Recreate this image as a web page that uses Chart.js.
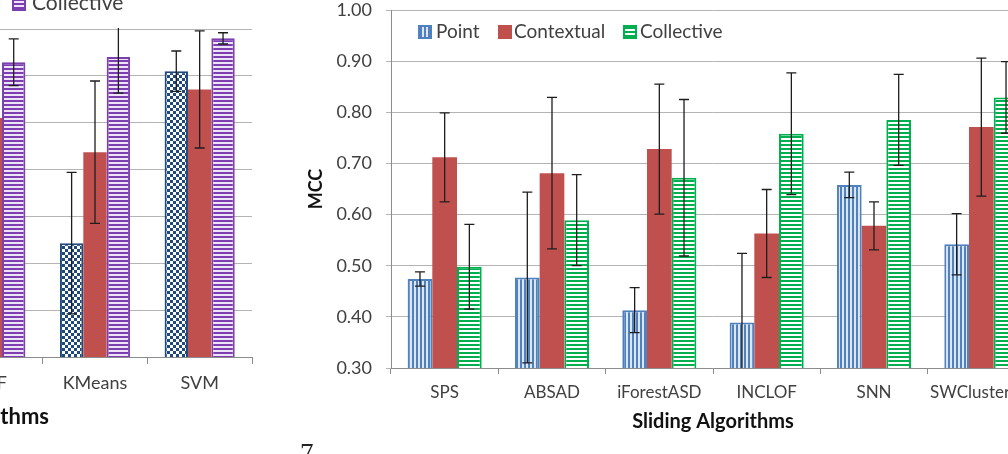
<!DOCTYPE html>
<html>
<head>
<meta charset="utf-8">
<script src="https://cdn.jsdelivr.net/npm/chart.js@4.4.0/dist/chart.umd.min.js"></script>
<style>
html, body { margin: 0; padding: 0; background: #fff; }
body { width: 1008px; height: 454px; overflow: hidden; position: relative; font-family: Lato, sans-serif; }
#batchChart { position: absolute; left: -70px; top: 0; }
#slidingChart { position: absolute; left: 300px; top: 0; }
.item { position: absolute; height: 22px; line-height: 22px; font-size: 19px; color: #404040; white-space: nowrap; }
.sw { position: absolute; width: 10px; height: 10px; top: 5px; border: 2px solid; }
.title { position: absolute; font-size: 22px; font-weight: bold; color: #111; white-space: nowrap; }
.page { position: absolute; left: 300px; top: 438px; font-family: "Liberation Serif", serif; font-size: 27px; color: #222; }
</style>
</head>
<body>
<canvas id="batchChart" width="330" height="454"></canvas>
<canvas id="slidingChart" width="740" height="454"></canvas>

<!-- legend of the cut-off left chart -->
<div class="item" style="left:32px; top:-9px; font-size:21px;">Collective</div>
<div class="sw" style="left:12px; top:-3px; border-color:#7b3fb0; background:repeating-linear-gradient(#7b3fb0 0 2px, #efe4f7 2px 4px);"></div>
<div class="title" style="right:959px; top:402px;">Batch Algorithms</div>

<!-- legend of the right chart, it sits inside the plot -->
<div class="sw" style="left:418px; top:25px; border-color:#4f81bd; background:repeating-linear-gradient(90deg, #4f81bd 0 2px, #dce6f2 2px 4px);"></div>
<div class="item" style="left:436px; top:20px;">Point</div>
<div class="sw" style="left:498px; top:25px; border-color:#c0504d; background:#c0504d;"></div>
<div class="item" style="left:514px; top:20px;">Contextual</div>
<div class="sw" style="left:623px; top:25px; border-color:#00b050; background:repeating-linear-gradient(#00b050 0 2px, #fff 2px 4px);"></div>
<div class="item" style="left:640px; top:20px;">Collective</div>

<div class="page">7</div>

<script>
// sliding algorithms (right chart)
const slidingAlgorithms = ['SPS', 'ABSAD', 'iForestASD', 'INCLOF', 'SNN', 'SWClustering'];
const slidingPoint = [0.474, 0.477, 0.413, 0.389, 0.658, 0.542];
const slidingPointErr = [0.014, 0.167, 0.044, 0.135, 0.025, 0.060];
const slidingContextual = [0.712, 0.681, 0.728, 0.563, 0.578, 0.771];
const slidingContextualErr = [0.087, 0.148, 0.127, 0.086, 0.047, 0.135];
const slidingCollective = [0.498, 0.589, 0.672, 0.758, 0.785, 0.829];
const slidingCollectiveErr = [0.083, 0.089, 0.153, 0.119, 0.089, 0.070];

// batch algorithms (left chart, mostly cut off)
const batchAlgorithms = ['LOF', 'KMeans', 'SVM'];
const batchPoint = [null, 0.543, 0.910];
const batchPointErr = [null, 0.151, 0.043];
const batchContextual = [0.810, 0.737, 0.871];
const batchContextualErr = [null, 0.152, 0.125];
const batchCollective = [0.929, 0.940, 0.980];
const batchCollectiveErr = [0.050, 0.077, 0.012];

const mccMin = 0.3;
const mccMax = 1.0;
const mccStep = 0.1;

function makePattern(w, h, draw) {
  const c = document.createElement('canvas');
  c.width = w; c.height = h;
  const g = c.getContext('2d');
  draw(g);
  return g.createPattern(c, 'repeat');
}

const blueStripes = makePattern(4, 4, g => {
  g.fillStyle = '#dce6f2'; g.fillRect(0, 0, 4, 4);
  g.fillStyle = '#4f81bd'; g.fillRect(0, 0, 2, 4);
});
const greenStripes = makePattern(4, 4, g => {
  g.fillStyle = '#ffffff'; g.fillRect(0, 0, 4, 4);
  g.fillStyle = '#00b050'; g.fillRect(0, 0, 4, 2);
});
const purpleStripes = makePattern(4, 4, g => {
  g.fillStyle = '#efe4f7'; g.fillRect(0, 0, 4, 4);
  g.fillStyle = '#7b3fb0'; g.fillRect(0, 0, 4, 2);
});
const navyChecks = makePattern(6, 6, g => {
  g.fillStyle = '#ffffff'; g.fillRect(0, 0, 6, 6);
  g.fillStyle = '#1f497d'; g.fillRect(0, 0, 3, 3); g.fillRect(3, 3, 3, 3);
});

// error bars drawn from dataset.errors through the y scale
const errorBars = {
  id: 'errorBars',
  afterDatasetsDraw(chart) {
    const ctx = chart.ctx, y = chart.scales.y, area = chart.chartArea;
    ctx.save();
    ctx.beginPath();
    ctx.rect(area.left, area.top - 1, area.right - area.left, area.bottom - area.top + 1);
    ctx.clip();
    ctx.strokeStyle = '#1e1e1e';
    ctx.lineWidth = 1.3;
    chart.data.datasets.forEach((ds, di) => {
      const meta = chart.getDatasetMeta(di);
      ds.errors.forEach((e, i) => {
        const v = ds.data[i];
        if (e == null || v == null) return;
        const x = meta.data[i].x;
        const t = y.getPixelForValue(v + e), b = y.getPixelForValue(v - e);
        ctx.beginPath();
        ctx.moveTo(x, t); ctx.lineTo(x, b);
        ctx.moveTo(x - 5, t); ctx.lineTo(x + 5, t);
        ctx.moveTo(x - 5, b); ctx.lineTo(x + 5, b);
        ctx.stroke();
      });
    });
    ctx.restore();
  }
};

Chart.defaults.font.family = 'Lato, sans-serif';
Chart.defaults.color = '#404040';

new Chart(document.getElementById('slidingChart'), {
  type: 'bar',
  data: {
    labels: slidingAlgorithms,
    datasets: [
      { label: 'Point', data: slidingPoint, errors: slidingPointErr,
        backgroundColor: blueStripes, borderColor: '#4f81bd', borderWidth: 2 },
      { label: 'Contextual', data: slidingContextual, errors: slidingContextualErr,
        backgroundColor: '#c0504d', borderColor: '#c0504d', borderWidth: 0 },
      { label: 'Collective', data: slidingCollective, errors: slidingCollectiveErr,
        backgroundColor: greenStripes, borderColor: '#00b050', borderWidth: 2 }
    ]
  },
  options: {
    responsive: false,
    animation: false,
    layout: { padding: { left: 0, right: 5, top: 10, bottom: 0 } },
    datasets: { bar: { categoryPercentage: 0.69, barPercentage: 1.0 } },
    plugins: { legend: { display: false }, tooltip: { enabled: false } },
    scales: {
      x: {
        afterFit(s) { s.height = 86; s.paddingLeft = 0; s.paddingRight = 0; },
        grid: { drawOnChartArea: false, drawTicks: true, tickLength: 6, color: '#8c8c8c' },
        border: { color: '#8c8c8c' },
        ticks: { font: { size: 17 }, padding: 8, color: '#404040', autoSkip: false, maxRotation: 0 },
        title: { display: true, text: 'Sliding Algorithms', font: { size: 20, weight: 'bold' }, color: '#111',
                 padding: { top: 0, bottom: 20 } }
      },
      y: {
        min: mccMin, max: mccMax,
        afterFit(s) { s.width = 91; s.paddingTop = 0; s.paddingBottom = 0; },
        grid: { color: '#b4b4b4', tickLength: 5 },
        border: { color: '#8c8c8c' },
        ticks: { stepSize: mccStep, font: { size: 18 }, padding: 14, color: '#404040',
                 callback: v => v.toFixed(2) },
        title: { display: true, text: 'MCC', font: { size: 18, weight: 'bold' }, color: '#111',
                 padding: { top: 5, bottom: 0 } }
      }
    }
  },
  plugins: [errorBars]
});

new Chart(document.getElementById('batchChart'), {
  type: 'bar',
  data: {
    labels: batchAlgorithms,
    datasets: [
      { label: 'Point', data: batchPoint, errors: batchPointErr,
        backgroundColor: navyChecks, borderColor: '#1f497d', borderWidth: 2 },
      { label: 'Contextual', data: batchContextual, errors: batchContextualErr,
        backgroundColor: '#c0504d', borderColor: '#c0504d', borderWidth: 0 },
      { label: 'Collective', data: batchCollective, errors: batchCollectiveErr,
        backgroundColor: purpleStripes, borderColor: '#7b3fb0', borderWidth: 2 }
    ]
  },
  options: {
    responsive: false,
    animation: false,
    layout: { padding: { left: 8, right: 8, top: 29, bottom: 0 } },
    datasets: { bar: { categoryPercentage: 0.67, barPercentage: 1.0 } },
    plugins: { legend: { display: false }, tooltip: { enabled: false } },
    scales: {
      x: {
        afterFit(s) { s.height = 97; s.paddingLeft = 0; s.paddingRight = 0; },
        grid: { drawOnChartArea: false, drawTicks: true, tickLength: 7, color: '#8c8c8c' },
        border: { color: '#8c8c8c' },
        ticks: { font: { size: 18 }, padding: 8, color: '#404040' }
      },
      y: {
        min: mccMin, max: mccMax,
        afterFit(s) { s.width = 0; s.paddingTop = 0; s.paddingBottom = 0; },
        grid: { color: '#b4b4b4', drawTicks: false },
        border: { display: false },
        ticks: { display: false, stepSize: mccStep }
      }
    }
  },
  plugins: [errorBars]
});
</script>
</body>
</html>
